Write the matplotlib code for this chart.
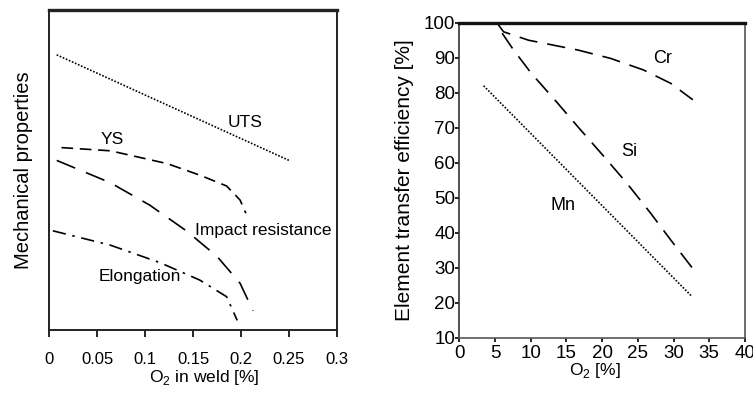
import matplotlib
matplotlib.use('Agg')
import matplotlib.pyplot as plt

plt.rcParams['font.family'] = ['Liberation Sans', 'DejaVu Sans']

# left panel: mechanical properties vs O2 in weld (arbitrary y scale 0-100)
uts_x = [0.008, 0.25]
uts_y = [86, 53]
ys_x = [0.013, 0.064, 0.123, 0.157, 0.185, 0.199, 0.205]
ys_y = [57, 56, 52, 48.4, 45, 40.6, 36.5]
imp_x = [0.008, 0.064, 0.105, 0.143, 0.175, 0.199, 0.2125]
imp_y = [53, 46, 39, 31, 23, 14.6, 6]
elo_x = [0.004, 0.064, 0.116, 0.157, 0.185, 0.196]
elo_y = [31, 26.5, 21, 15.6, 10.4, 3]
left_xticks = [0, 0.05, 0.1, 0.15, 0.2, 0.25, 0.3]
left_xlabels = ['0', '0.05', '0.1', '0.15', '0.2', '0.25', '0.3']

# right panel: element transfer efficiency vs O2
cr_x = [5.25, 6.2, 9.7, 16.6, 21.2, 25.8, 29.6, 32.7]
cr_y = [100, 97.4, 95, 92.2, 89.8, 86.5, 82.7, 78]
si_x = [6.0, 7.6, 10.1, 13.4, 16.6, 20.3, 23.5, 26.8, 29.6, 33.0]
si_y = [97, 92.2, 85.5, 77.9, 70.3, 61.7, 54.1, 45.6, 38, 29]
mn_x = [3.4, 32.5]
mn_y = [82, 22]
right_xticks = [0, 5, 10, 15, 20, 25, 30, 35, 40]
right_yticks = [10, 20, 30, 40, 50, 60, 70, 80, 90, 100]

fig = plt.figure(figsize=(7.53, 4.04), dpi=100)
ax1 = fig.add_axes([0.0651, 0.1832, 0.3825, 0.792])
ax2 = fig.add_axes([0.610, 0.1634, 0.3793, 0.7804])

lw = 1.2
ax1.plot(uts_x, uts_y, color='black', lw=lw, linestyle=(0, (1, 1)))
ax1.plot(ys_x, ys_y, color='black', lw=lw, linestyle=(0, (7, 4)))
ax1.plot(imp_x, imp_y, color='black', lw=lw, linestyle=(0, (12, 7)))
ax1.plot(elo_x, elo_y, color='black', lw=lw, linestyle=(0, (8, 4, 1.5, 4)))
ax1.text(0.204, 65, 'UTS', fontsize=12.5, ha='center', va='center')
ax1.text(0.066, 59.4, 'YS', fontsize=12.5, ha='center', va='center')
ax1.text(0.2235, 31, 'Impact resistance', fontsize=12.5, ha='center', va='center')
ax1.text(0.095, 16.6, 'Elongation', fontsize=12.5, ha='center', va='center')
ax1.set_xlim(0, 0.3)
ax1.set_ylim(0, 100)
ax1.set_xticks(left_xticks)
ax1.set_xticklabels(left_xlabels, fontsize=12)
ax1.set_yticks([])
ax1.tick_params(axis='x', direction='out', length=5, width=1.2, pad=11)
ax1.set_xlabel('O$_{\\mathregular{2}}$ in weld [%]', fontsize=12.5)
ax1.xaxis.set_label_coords(0.54, -0.119)
ax1.set_ylabel('Mechanical properties', fontsize=14.5)
ax1.yaxis.set_label_coords(-0.055, 0.5)
for s in ax1.spines.values():
    s.set_linewidth(1.4)
    s.set_color('#222222')
ax1.spines['top'].set_linewidth(2.4)

ax2.plot(cr_x, cr_y, color='black', lw=lw, linestyle=(0, (11, 6)))
ax2.plot(si_x, si_y, color='black', lw=lw, linestyle=(0, (11, 6)))
ax2.plot(mn_x, mn_y, color='black', lw=lw, linestyle=(0, (1, 1)))
ax2.text(28.5, 89.8, 'Cr', fontsize=13, ha='center', va='center')
ax2.text(23.8, 63.2, 'Si', fontsize=13, ha='center', va='center')
ax2.text(14.5, 47.7, 'Mn', fontsize=13, ha='center', va='center')
ax2.set_xlim(0, 40)
ax2.set_ylim(10, 100)
ax2.set_xticks(right_xticks)
ax2.set_yticks(right_yticks)
ax2.tick_params(axis='both', direction='out', length=3, width=1.2, labelsize=13.5)
ax2.tick_params(axis='x', pad=2)
ax2.tick_params(axis='y', pad=0)
ax2.set_xlabel('O$_{\\mathregular{2}}$ [%]', fontsize=12.5)
ax2.xaxis.set_label_coords(0.475, -0.072)
ax2.set_ylabel('Element transfer efficiency [%]', fontsize=15)
ax2.yaxis.set_label_coords(-0.16, 0.5)
for s in ax2.spines.values():
    s.set_linewidth(1.2)
    s.set_color('#333333')
ax2.spines['top'].set_linewidth(2.4)
ax2.spines['top'].set_color('#111111')
ax2.spines['right'].set_color('#555555')
ax2.spines['bottom'].set_color('#555555')

fig.savefig('out.png', dpi=100)
